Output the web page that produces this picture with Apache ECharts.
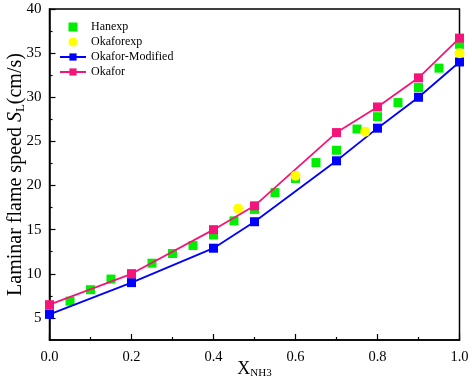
<!DOCTYPE html>
<html lang="en">
<head>
  <meta charset="UTF-8">
  <title>Laminar flame speed</title>
  <style>
    html,body{margin:0;padding:0;background:#fff;}
    #main{width:472px;height:389px;}
  </style>
</head>
<body>
  <div id="main"></div>
  <script src="https://cdn.jsdelivr.net/npm/echarts@6/dist/echarts.min.js"></script>
  <script>
    // experimental points
    const hanX=[0,0.05,0.1,0.15,0.2,0.25,0.3,0.35,0.4,0.45,0.5,0.55,0.6,0.65,0.7,0.75,0.8,0.85,0.9,0.95,1.0];
    const hanexp=[6.0,6.9,8.2,9.4,10.0,11.2,12.3,13.2,14.4,16.0,17.3,19.2,20.8,22.6,24.0,26.4,27.8,29.4,31.1,33.3,36.0];
    const okaX=[0.46,0.6,0.77,1.0];
    const okaforexp=[17.4,21.1,26.1,35.0];
    // model curves
    const modelX=[0,0.2,0.4,0.5,0.7,0.8,0.9,1.0];
    const okaforMod=[5.4,9.0,12.9,15.9,22.8,26.5,30.0,34.0];
    const okafor=[6.5,10.0,15.0,17.7,26.0,28.9,32.2,36.7];
    const yMajor=[5,10,15,20,25,30,35,40];
    const yMinor=[7.5,12.5,17.5,22.5,27.5,32.5,37.5];

    const font="'Times New Roman','Liberation Serif',serif";
    const pair=(xs,ys)=>xs.map((x,i)=>[x,ys[i]]);

    const chart=echarts.init(document.querySelector('#main'));
    const option={
      animation:false,
      grid:{left:49.5,right:12.5,top:9,bottom:49,outerBoundsMode:'none',containLabel:false,
        show:true,borderColor:'#000',borderWidth:1.5},
      legend:{
        orient:'vertical',left:54,top:16,itemWidth:26,itemHeight:9,itemGap:3,
        symbolKeepAspect:true,
        textStyle:{fontFamily:font,fontSize:12,lineHeight:12,color:'#000'},
        data:[
          {name:'Hanexp',icon:'path://M0,0H10V10H0Z'},
          {name:'Okaforexp',icon:'circle'},
          'Okafor-Modified','Okafor'
        ]
      },
      xAxis:{
        type:'value',min:0,max:1,interval:0.2,
        name:'{x|X}{s|NH3}',nameLocation:'middle',nameGap:19,nameMoveOverlap:false,
        nameTextStyle:{rich:{
          x:{fontFamily:font,fontSize:18,color:'#000',verticalAlign:'middle',lineHeight:20},
          s:{fontFamily:font,fontSize:11,color:'#000',verticalAlign:'middle',lineHeight:11,padding:[9,0,0,0]}
        }},
        axisLine:{lineStyle:{color:'#000',width:1.5}},
        axisTick:{inside:true,length:6,lineStyle:{color:'#000',width:1.2}},
        minorTick:{show:true,splitNumber:2,length:3,lineStyle:{color:'#000',width:1.2}},
        splitLine:{show:false},
        axisLabel:{fontFamily:font,fontSize:14.5,color:'#000',margin:10,formatter:v=>v.toFixed(1)}
      },
      yAxis:[{
        type:'value',min:2.5,max:40,
        name:'{a|Laminar flame speed }{i|S}{s|L}{a|(cm/s)}',nameLocation:'middle',nameGap:22,nameMoveOverlap:false,
        nameTextStyle:{rich:{
          a:{fontFamily:font,fontSize:20,color:'#000',verticalAlign:'middle',lineHeight:24},
          i:{fontFamily:font,fontSize:20,fontStyle:'italic',color:'#000',verticalAlign:'middle',lineHeight:24},
          s:{fontFamily:font,fontSize:13,color:'#000',verticalAlign:'middle',lineHeight:13,padding:[10,0,0,0]}
        }},
        axisLine:{lineStyle:{color:'#000',width:1.5}},
        axisTick:{inside:true,length:6,customValues:yMajor,lineStyle:{color:'#000',width:1.2}},
        splitLine:{show:false},
        axisLabel:{fontFamily:font,fontSize:15,color:'#000',margin:8,customValues:yMajor}
      },{
        type:'value',min:2.5,max:40,position:'left',
        axisLine:{show:false},
        axisTick:{inside:true,length:3,customValues:yMinor,lineStyle:{color:'#000',width:1.2}},
        axisLabel:{show:false},
        splitLine:{show:false}
      }],
      series:[
        {name:'Hanexp',type:'scatter',symbol:'rect',symbolSize:9,z:2,
          itemStyle:{color:'#00ee00',opacity:1},data:pair(hanX,hanexp)},
        {name:'Okafor-Modified',type:'line',symbol:'rect',symbolSize:9,z:3,
          itemStyle:{color:'#0000ff'},lineStyle:{color:'#0000ff',width:1.8},data:pair(modelX,okaforMod)},
        {name:'Okafor',type:'line',symbol:'rect',symbolSize:9,z:3,
          itemStyle:{color:'#f5157a'},lineStyle:{color:'#f5157a',width:1.8},data:pair(modelX,okafor)},
        {name:'Okaforexp',type:'scatter',symbol:'circle',symbolSize:10,z:4,
          itemStyle:{color:'#ffff00',opacity:1},data:pair(okaX,okaforexp)}
      ]
    };
    chart.setOption(option);
  </script>
</body>
</html>
